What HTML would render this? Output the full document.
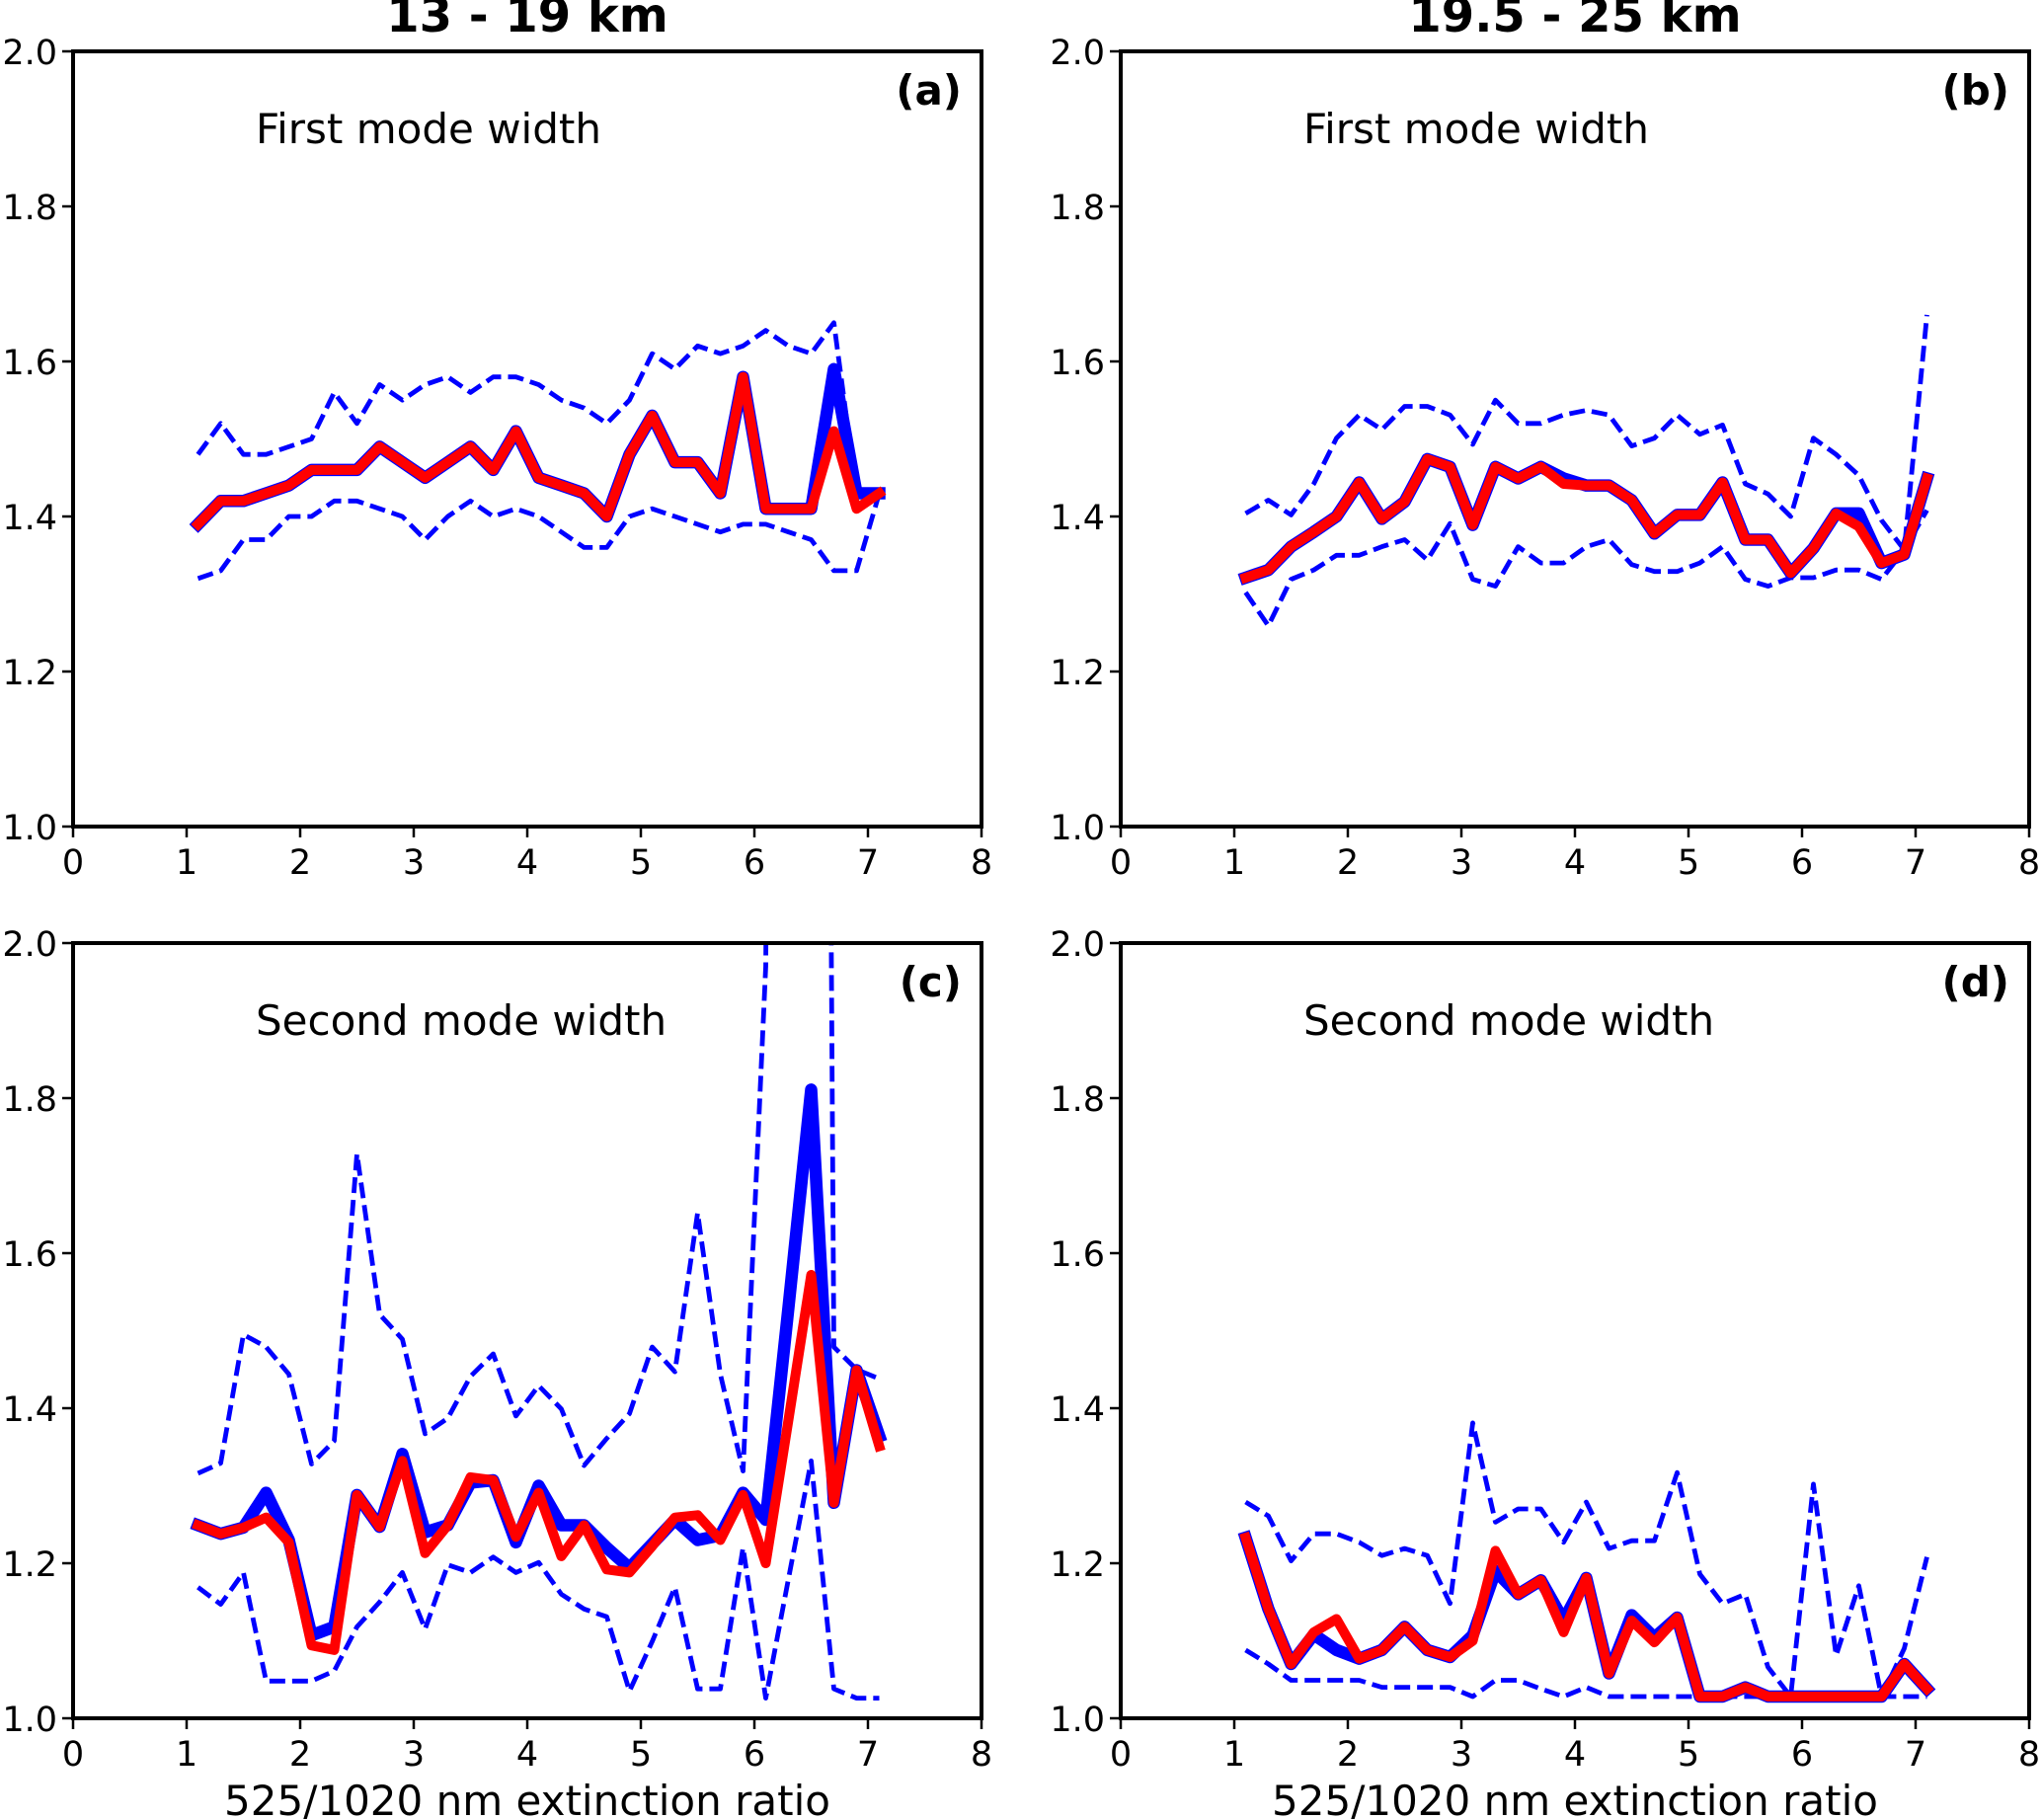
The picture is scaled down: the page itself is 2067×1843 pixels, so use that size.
<!DOCTYPE html>
<html><head><meta charset="utf-8"><style>
html,body{margin:0;padding:0;background:#fff;}
svg{display:block;font-family:"DejaVu Sans","Liberation Sans",sans-serif;}
</style></head><body>
<svg id="fig" width="2067" height="1843" viewBox="0 0 2067 1843" xmlns="http://www.w3.org/2000/svg"></svg>
<script>
const xs = [1.1,1.3,1.5,1.7,1.9,2.1,2.3,2.5,2.7,2.9,3.1,3.3,3.5,3.7,3.9,4.1,4.3,4.5,4.7,4.9,5.1,5.3,5.5,5.7,5.9,6.1,6.3,6.5,6.7,6.9,7.1];
const xTicks = [0,1,2,3,4,5,6,7,8];
const yTicks = [1.0,1.2,1.4,1.6,1.8,2.0];
const yTickLabels = ["1.0","1.2","1.4","1.6","1.8","2.0"];
const colTitles = ["13 - 19 km","19.5 - 25 km"];

const aRed   = [1.39,1.42,1.42,1.43,1.44,1.46,1.46,1.46,1.49,1.47,1.45,1.47,1.49,1.46,1.51,1.45,1.44,1.43,1.40,1.48,1.53,1.47,1.47,1.43,1.58,1.41,1.41,1.41,1.51,1.41,1.43];
const aBlue  = [1.39,1.42,1.42,1.43,1.44,1.46,1.46,1.46,1.49,1.47,1.45,1.47,1.49,1.46,1.51,1.45,1.44,1.43,1.40,1.48,1.53,1.47,1.47,1.43,1.58,1.41,1.41,1.41,1.59,1.43,1.43];
const aUpper = [1.48,1.52,1.48,1.48,1.49,1.50,1.56,1.52,1.57,1.55,1.57,1.58,1.56,1.58,1.58,1.57,1.55,1.54,1.52,1.55,1.61,1.59,1.62,1.61,1.62,1.64,1.62,1.61,1.65,1.43,1.43];
const aLower = [1.32,1.33,1.37,1.37,1.40,1.40,1.42,1.42,1.41,1.40,1.37,1.40,1.42,1.40,1.41,1.40,1.38,1.36,1.36,1.40,1.41,1.40,1.39,1.38,1.39,1.39,1.38,1.37,1.33,1.33,1.43];

const bRed   = [1.321,1.331,1.361,1.380,1.400,1.444,1.397,1.419,1.474,1.464,1.389,1.464,1.449,1.464,1.442,1.440,1.440,1.421,1.378,1.402,1.402,1.444,1.370,1.370,1.327,1.359,1.404,1.387,1.340,1.351,1.449];
const bBlue  = [1.321,1.331,1.361,1.380,1.400,1.444,1.397,1.419,1.474,1.464,1.389,1.464,1.449,1.464,1.449,1.440,1.440,1.421,1.378,1.402,1.402,1.444,1.370,1.370,1.327,1.359,1.404,1.404,1.340,1.351,1.449];
const bUpper = [1.404,1.421,1.402,1.442,1.501,1.531,1.512,1.542,1.542,1.531,1.493,1.550,1.520,1.520,1.531,1.537,1.531,1.491,1.501,1.531,1.506,1.518,1.442,1.429,1.400,1.501,1.480,1.453,1.395,1.357,1.660];
const bLower = [1.302,1.259,1.319,1.331,1.350,1.350,1.361,1.370,1.344,1.391,1.319,1.310,1.361,1.340,1.340,1.361,1.370,1.338,1.329,1.329,1.340,1.361,1.319,1.310,1.321,1.321,1.331,1.331,1.319,1.357,1.408];

const cRed   = [1.249,1.238,1.246,1.259,1.227,1.094,1.088,1.288,1.247,1.332,1.213,1.249,1.311,1.307,1.234,1.291,1.209,1.249,1.192,1.188,1.222,1.259,1.262,1.230,1.288,1.200,1.385,1.572,1.278,1.449,1.351];
const cBlue  = [1.249,1.238,1.246,1.291,1.230,1.107,1.118,1.288,1.247,1.341,1.240,1.249,1.304,1.307,1.227,1.300,1.249,1.249,1.220,1.194,1.225,1.256,1.230,1.236,1.291,1.256,1.530,1.811,1.278,1.449,1.364];
const cUpper = [1.316,1.329,1.495,1.479,1.444,1.328,1.358,1.728,1.521,1.489,1.367,1.387,1.441,1.470,1.390,1.429,1.399,1.326,1.361,1.393,1.479,1.447,1.652,1.444,1.319,1.97,6.0,6.0,1.479,1.450,1.438];
const cLower = [1.169,1.147,1.188,1.048,1.048,1.048,1.061,1.118,1.150,1.188,1.115,1.198,1.188,1.208,1.188,1.201,1.160,1.141,1.131,1.035,1.099,1.169,1.038,1.038,1.220,1.026,1.180,1.332,1.038,1.026,1.026];

const dRed   = [1.233,1.141,1.070,1.111,1.128,1.077,1.088,1.118,1.088,1.079,1.100,1.216,1.160,1.178,1.111,1.181,1.058,1.126,1.098,1.130,1.028,1.028,1.040,1.028,1.028,1.028,1.028,1.028,1.028,1.070,1.038];
const dBlue  = [1.233,1.141,1.070,1.108,1.088,1.077,1.088,1.118,1.088,1.079,1.107,1.190,1.160,1.178,1.126,1.181,1.058,1.133,1.104,1.130,1.028,1.028,1.040,1.028,1.028,1.028,1.028,1.028,1.028,1.070,1.038];
const dUpper = [1.279,1.261,1.203,1.238,1.238,1.227,1.210,1.219,1.210,1.148,1.381,1.253,1.270,1.270,1.227,1.279,1.219,1.229,1.229,1.317,1.186,1.148,1.160,1.066,1.028,1.302,1.081,1.171,1.028,1.090,1.208];
const dLower = [1.088,1.070,1.049,1.049,1.049,1.049,1.040,1.040,1.040,1.040,1.028,1.049,1.049,1.038,1.028,1.040,1.028,1.028,1.028,1.028,1.028,1.028,1.028,1.028,1.028,1.028,1.028,1.028,1.028,1.028,1.028];

const NS = "http://www.w3.org/2000/svg";
const svg = document.getElementById('fig');
function mk(tag, attrs, parent){ const e=document.createElementNS(NS,tag); for(const k in attrs) e.setAttribute(k,attrs[k]); (parent||svg).appendChild(e); return e; }

const W = 920, H = 785;
const panels = [
  {id:'a', L:74,   T:52,  note:'First mode width',  red:aRed, blue:aBlue, up:aUpper, lo:aLower, xlabel:false},
  {id:'b', L:1135, T:52,  note:'First mode width',  red:bRed, blue:bBlue, up:bUpper, lo:bLower, xlabel:false},
  {id:'c', L:74,   T:955, note:'Second mode width', red:cRed, blue:cBlue, up:cUpper, lo:cLower, xlabel:true},
  {id:'d', L:1135, T:955, note:'Second mode width', red:dRed, blue:dBlue, up:dUpper, lo:dLower, xlabel:true}
];

colTitles.forEach((t,i)=>{
  const e = mk('text',{x: (i===0?74:1135)+W/2, y:32, 'text-anchor':'middle','font-size':48,'font-weight':'bold',fill:'#000'});
  e.textContent = t;
  
  
});

panels.forEach(p=>{
  const g = mk('g',{});
  
  
  const sx = v => p.L + v/8*W;
  const sy = v => p.T + (2.0 - v)/1.0*H;
  const cid = 'clip-'+p.id;
  const cp = mk('clipPath',{id:cid}, g);
  mk('rect',{x:p.L,y:p.T,width:W,height:H}, cp);
  const plot = mk('g',{'clip-path':'url(#'+cid+')'}, g);
  
  
  function line(arr, color, w, dash, name){
    const d = arr.map((v,i)=>(i?'L':'M')+sx(xs[i]).toFixed(1)+' '+sy(v).toFixed(1)).join(' ');
    const e = mk('path',{d:d,fill:'none',stroke:color,'stroke-width':w,'stroke-linejoin':'round','stroke-linecap':dash?'butt':'square'}, plot);
    if(dash) e.setAttribute('stroke-dasharray', dash);
    
    
  }
  line(p.up, '#0000ff', 4.8, '16 7', 'upper-bound-line-'+p.id);
  line(p.lo, '#0000ff', 4.8, '16 7', 'lower-bound-line-'+p.id);
  line(p.blue, '#0000ff', 12.5, null, 'blue-series-line-'+p.id);
  line(p.red, '#ff0000', 10, null, 'red-series-line-'+p.id);
  const fr = mk('rect',{x:p.L,y:p.T,width:W,height:H,fill:'none',stroke:'#000','stroke-width':4}, g);
  
  
  xTicks.forEach(t=>{
    mk('line',{x1:sx(t),x2:sx(t),y1:p.T+H,y2:p.T+H+11,stroke:'#000','stroke-width':2.5}, g);
    const e = mk('text',{x:sx(t),y:p.T+H+48,'text-anchor':'middle','font-size':35,fill:'#000'}, g);
    e.textContent = String(t);
    
    
  });
  yTicks.forEach((t,i)=>{
    mk('line',{x1:p.L-11,x2:p.L,y1:sy(t),y2:sy(t),stroke:'#000','stroke-width':2.5}, g);
    const e = mk('text',{x:p.L-16,y:sy(t)+13,'text-anchor':'end','font-size':35,fill:'#000'}, g);
    e.textContent = yTickLabels[i];
    
    
  });
  const n = mk('text',{x:p.L+185,y:p.T+93,'font-size':42,fill:'#000'}, g);
  n.textContent = p.note;
  
  
  const l = mk('text',{x:p.L+W-20,y:p.T+54,'text-anchor':'end','font-size':42,'font-weight':'bold',fill:'#000'}, g);
  l.textContent = '('+p.id+')';
  
  
  if(p.xlabel){
    const x = mk('text',{x:p.L+W/2,y:1838,'text-anchor':'middle','font-size':42,fill:'#000'}, g);
    x.textContent = '525/1020 nm extinction ratio';
    
    
  }
});
</script>
</body></html>
